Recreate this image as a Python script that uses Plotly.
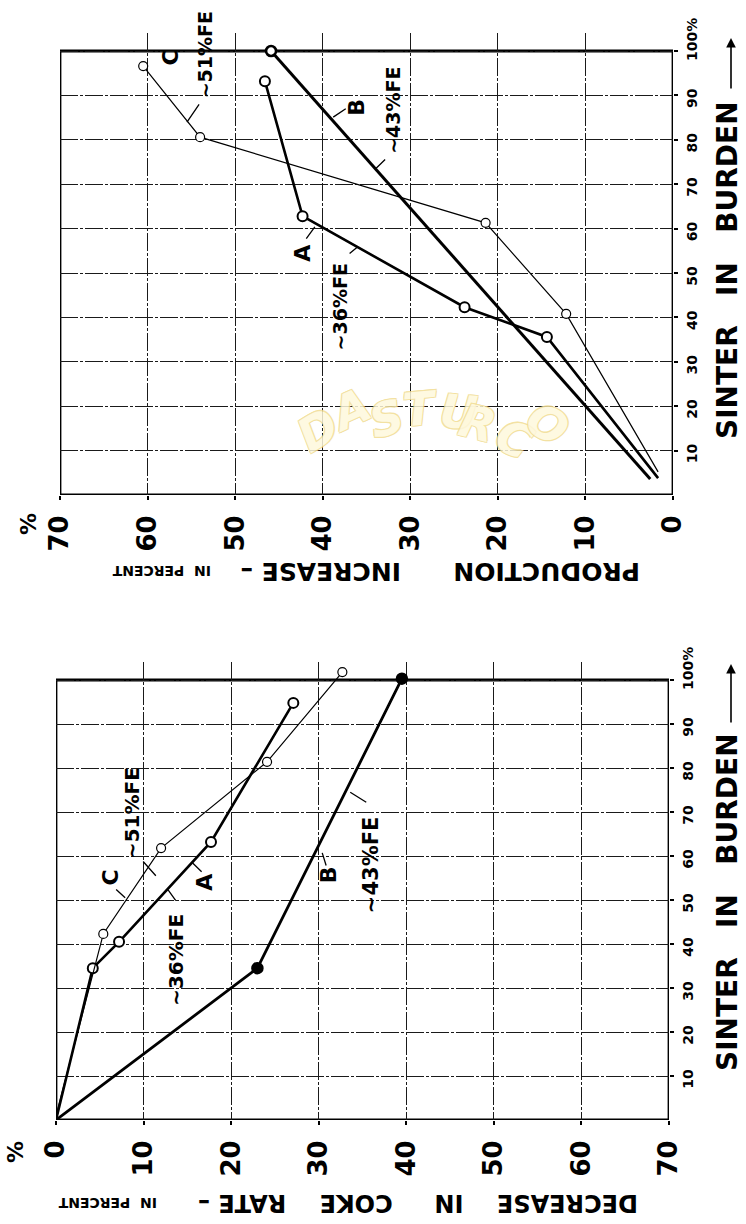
import plotly.graph_objects as go

W, H = 746, 1224

# ---------------- data ----------------
value_ticks = [0, 10, 20, 30, 40, 50, 60, 70]
sinter_ticks = [10, 20, 30, 40, 50, 60, 70, 80, 90, 100]
sinter_ticktext = ["10", "20", "30", "40", "50", "60", "70", "80", "90", "\u00a0" * 6 + "100%"]

# upper chart: production increase (%) vs sinter in burden (%)
up_A_sinter = [3.8, 35.6, 42.3, 62.8, 93.2]
up_A_incr = [1.7, 14.4, 23.8, 42.3, 46.6]
up_B_sinter = [3.6, 100.0]
up_B_incr = [2.6, 45.9]
up_C_sinter = [5.2, 40.8, 61.3, 80.6, 96.6]
up_C_incr = [1.7, 12.2, 21.4, 54.0, 60.5]

# lower chart: decrease in coke rate (%) vs sinter in burden (%)
lo_A_sinter = [0.0, 34.5, 40.5, 63.2, 94.8]
lo_A_decr = [0.0, 4.2, 7.2, 17.7, 27.1]
lo_B_sinter = [0.0, 34.5, 100.3]
lo_B_decr = [0.0, 23.0, 39.5]
lo_C_sinter = [1.0, 35.0, 42.3, 61.8, 81.4, 101.8]
lo_C_decr = [0.0, 4.4, 5.4, 12.0, 24.1, 32.7]

FONT = "DejaVu Sans"
YMAX = 104.0  # axis range top, leaves room for points just above the 100 % frame

fig = go.Figure()


def add_curve(xs, ys, first_marked, xa, ya, lw, msize, mline, mfill):
    fig.add_trace(go.Scatter(x=xs, y=ys, mode="lines", xaxis=xa, yaxis=ya,
                             line=dict(color="black", width=lw), cliponaxis=False,
                             hoverinfo="skip"))
    fig.add_trace(go.Scatter(x=xs[first_marked:], y=ys[first_marked:], mode="markers",
                             xaxis=xa, yaxis=ya, cliponaxis=False, hoverinfo="skip",
                             marker=dict(symbol="circle", size=msize, color=mfill,
                                         line=dict(color="black", width=mline))))


# upper
add_curve(up_A_incr, up_A_sinter, 1, "x", "y", 2.6, 10, 2.0, "white")
add_curve(up_B_incr, up_B_sinter, 1, "x", "y", 3.0, 10, 2.6, "white")
add_curve(up_C_incr, up_C_sinter, 1, "x", "y", 1.2, 9, 1.2, "white")
# lower
add_curve(lo_A_decr, lo_A_sinter, 1, "x2", "y2", 2.6, 10, 2.0, "white")
add_curve(lo_B_decr, lo_B_sinter, 1, "x2", "y2", 2.8, 11, 1.5, "black")
add_curve(lo_C_decr, lo_C_sinter, 2, "x2", "y2", 1.2, 9, 1.2, "white")

axis_common = dict(
    showline=False, automargin=False,
    showgrid=True, gridcolor="#1a1a1a", gridwidth=1, griddash="18px,2px,3px,2px",
    zeroline=False, ticks="outside", ticklen=4, tickcolor="black", tickwidth=1.5,
    tickangle=-90, fixedrange=True,
)
xfont = dict(family=FONT, size=26, color="black", weight="bold")
yfont = dict(family=FONT, size=14, color="black", weight="bold")


def ydomain(top_px, bottom_px):
    # 0..100 spans top_px..bottom_px; axis extends to YMAX above
    per = (bottom_px - top_px) / 100.0
    top_ext = top_px - (YMAX - 100.0) * per
    return [1 - bottom_px / H, 1 - top_ext / H]


fig.update_layout(
    width=W, height=H, margin=dict(l=0, r=0, t=0, b=0, autoexpand=False),
    paper_bgcolor="white", plot_bgcolor="rgba(0,0,0,0)", showlegend=False,
    xaxis=dict(axis_common, domain=[60 / W, 673 / W], range=[70, 0], anchor="y",
               tickvals=value_ticks, tickfont=xfont, ticklabelstandoff=5),
    yaxis=dict(axis_common, domain=ydomain(51, 495), range=[0, YMAX], anchor="x",
               side="right", tickvals=sinter_ticks, ticktext=sinter_ticktext,
               tickfont=yfont, ticklabelshift=5, ticklabelstandoff=2),
    xaxis2=dict(axis_common, domain=[56 / W, 669 / W], range=[0, 70], anchor="y2",
                tickvals=value_ticks, tickfont=xfont, ticklabelstandoff=5),
    yaxis2=dict(axis_common, domain=ydomain(680, 1120), range=[0, YMAX], anchor="x2",
                side="right", tickvals=sinter_ticks, ticktext=sinter_ticktext,
                tickfont=yfont, ticklabelshift=5, ticklabelstandoff=2),
)

# frames around the 0..70 x 0..100 region
shapes = []
for xr, yr in [("x", "y"), ("x2", "y2")]:
    shapes.append(dict(type="rect", xref=xr, yref=yr, x0=0, x1=70, y0=0, y1=100,
                       line=dict(color="black", width=2.8), layer="below"))
fig.update_layout(shapes=shapes)

ann = []


def P(px, py):
    return px / W, 1 - py / H


def paper_text(px, py, text, size, angle, bold=True):
    x, y = P(px, py)
    ann.append(dict(x=x, y=y, xref="paper", yref="paper", text=text, showarrow=False,
                    textangle=angle, xanchor="center", yanchor="middle",
                    font=dict(family=FONT, size=size, color="black",
                              weight="bold" if bold else "normal")))


NB = "\u00a0"
# value-axis titles (upside down)
paper_text(440, 572, "PRODUCTION" + NB * 6 + "INCREASE" + NB + "\u2013", 25, 180)
paper_text(162, 571, "IN" + NB * 2 + "PERCENT", 14, 180)
paper_text(418, 1203, "DECREASE" + NB * 4 + "IN" + NB * 5 + "COKE" + NB * 4 + "RATE" + NB + "\u2013", 24, 180)
paper_text(108, 1203, "IN" + NB * 2 + "PERCENT", 14, 180)
# percent signs near value axis
paper_text(28, 524, "%", 22, -90)
paper_text(15, 1152, "%", 22, -90)
# sinter axis titles
paper_text(727, 270, "SINTER" + NB * 3 + "IN" + NB * 3 + "BURDEN", 28, -90)
paper_text(727, 902, "SINTER" + NB * 3 + "IN" + NB * 3 + "BURDEN", 28, -90)
# arrows after titles
for tip, tail in [(38, 90), (664, 724)]:
    x, y = P(731, tip)
    ann.append(dict(x=x, y=y, xref="paper", yref="paper", text="", showarrow=True,
                    ax=0, ay=tail - tip, axref="pixel", ayref="pixel",
                    arrowhead=2, arrowsize=1.2, arrowwidth=1.6, arrowcolor="black"))


def data_text(x, y, xr, yr, text, size):
    ann.append(dict(x=x, y=y, xref=xr, yref=yr, text=text, showarrow=False, textangle=-90,
                    xanchor="center", yanchor="middle",
                    font=dict(family=FONT, size=size, color="black", weight="bold")))


def leader(x0, y0, x1, y1, xr, yr):
    ann.append(dict(x=x1, y=y1, xref=xr, yref=yr, ax=x0, ay=y0, axref=xr, ayref=yr,
                    text="", showarrow=True, arrowhead=0, arrowwidth=1.3,
                    arrowcolor="black", standoff=0, startstandoff=0))


# curve labels, upper chart
data_text(57.4, 98.6, "x", "y", "C", 22)
data_text(53.4, 99.1, "x", "y", "\u223c51%FE", 19)
data_text(42.4, 54.5, "x", "y", "A", 22)
data_text(38.0, 42.3, "x", "y", "\u223c36%FE", 19)
data_text(36.1, 87.4, "x", "y", "B", 22)
data_text(32.0, 86.7, "x", "y", "\u223c43%FE", 19)
leader(54.0, 88.3, 55.5, 84.0, "x", "y")
leader(42.0, 57.4, 40.9, 60.4, "x", "y")
leader(37.1, 54.1, 36.0, 55.9, "x", "y")
leader(37.2, 87.2, 38.8, 85.1, "x", "y")
leader(32.7, 75.9, 33.9, 73.6, "x", "y")

# curve labels, lower chart
data_text(6.2, 55.2, "x2", "y2", "C", 22)
data_text(8.7, 69.8, "x2", "y2", "\u223c51%FE", 20)
data_text(17.0, 54.1, "x2", "y2", "A", 22)
data_text(13.7, 36.4, "x2", "y2", "\u223c36%FE", 20)
data_text(31.2, 55.7, "x2", "y2", "B", 22)
data_text(35.9, 58.0, "x2", "y2", "\u223c43%FE", 21)
leader(6.7, 52.7, 7.9, 50.5, "x2", "y2")
leader(9.8, 59.1, 11.4, 55.5, "x2", "y2")
leader(16.8, 56.1, 15.6, 58.4, "x2", "y2")
leader(13.8, 49.5, 12.8, 52.3, "x2", "y2")
leader(30.9, 57.5, 30.4, 60.7, "x2", "y2")
leader(35.6, 72.0, 33.6, 74.5, "x2", "y2")

# watermark (arched letters)
wm_letters = ["D", "A", "S", "T", "U", "R", "C", "O"]
wm_pos = [(318, 430), (350, 410), (386, 386), (420, 378), (458, 381), (503, 390), (544, 405), (582, 424)]
wm_ang = [-32, -25, -15, -5, 5, 14, 26, 36]
outline = "#f1dc92"
shadow = ", ".join(f"{dx}px {dy}px 0px {outline}" for dx, dy in
                   [(-1, -1), (1, -1), (-1, 1), (1, 1)])
for ch, (px, py), a in zip(wm_letters, wm_pos, wm_ang):
    x, y = P(px, py)
    ann.append(dict(x=x, y=y, xref="paper", yref="paper", text=ch, showarrow=False,
                    textangle=a, opacity=0.85,
                    font=dict(family=FONT, size=46, color="#fef8dc", weight="bold",
                              style="italic", shadow=shadow)))

fig.update_layout(annotations=ann)
fig.write_html("out.html")
